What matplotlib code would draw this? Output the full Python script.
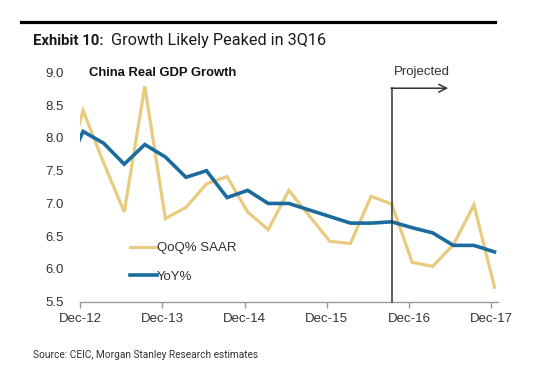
import matplotlib
matplotlib.use("Agg")
import matplotlib.pyplot as plt
import numpy as np

# Quarterly data, Sep-12 .. Dec-17
quarters = ["Sep-12", "Dec-12", "Mar-13", "Jun-13", "Sep-13", "Dec-13", "Mar-14", "Jun-14",
            "Sep-14", "Dec-14", "Mar-15", "Jun-15", "Sep-15", "Dec-15", "Mar-16", "Jun-16",
            "Sep-16", "Dec-16", "Mar-17", "Jun-17", "Sep-17", "Dec-17"]
qoq_saar = [7.3, 8.42, 7.62, 6.87, 8.79, 6.77, 6.94, 7.30, 7.41, 6.87, 6.60, 7.20,
            6.81, 6.42, 6.39, 7.11, 6.99, 6.10, 6.04, 6.37, 6.98, 5.72]
yoy = [7.4, 8.10, 7.92, 7.60, 7.90, 7.71, 7.40, 7.50, 7.09, 7.20, 7.00, 7.00,
       6.90, 6.80, 6.70, 6.70, 6.72, 6.63, 6.55, 6.36, 6.36, 6.26]
tick_labels = ["Dec-12", "Dec-13", "Dec-14", "Dec-15", "Dec-16", "Dec-17"]
y_ticks = [5.5, 6.0, 6.5, 7.0, 7.5, 8.0, 8.5, 9.0]
projection_start = "Sep-16"

TAN = "#E8CB7E"
BLUE = "#1B6C9C"
TXT = "#333333"

W, H = 551, 374
fig = plt.figure(figsize=(W / 100, H / 100), dpi=100)
fig.patch.set_facecolor("white")

ax = fig.add_axes([80 / W, 1 - 301.7 / H, (498 - 80) / W, (301.7 - 72.5) / H])

x = np.arange(len(quarters)) - 1  # Dec-12 at 0
ax.plot(x, qoq_saar, color=TAN, lw=2.3, label="QoQ% SAAR", solid_joinstyle="miter", zorder=3)
ax.plot(x, yoy, color=BLUE, lw=2.6, label="YoY%", solid_joinstyle="miter", zorder=4)

off = 0.15
xt = [4 * i - off for i in range(len(tick_labels))]
ax.set_xticks(xt)
ax.set_xticklabels(tick_labels, fontfamily="Liberation Sans", fontsize=9.5, color=TXT)
ax.set_xlim(-off, 20.17)
ax.set_ylim(5.5, 9.0)
ax.set_yticks(y_ticks)
ax.set_yticklabels([f"{v:.1f}" for v in y_ticks], fontfamily="Liberation Sans", fontsize=9.5, color=TXT)

for s in ["top", "right", "left"]:
    ax.spines[s].set_visible(False)
ax.spines["bottom"].set_color("#999999")
ax.spines["bottom"].set_linewidth(1.0)
ax.tick_params(axis="x", length=4, color="#999999", width=1.0, pad=4)
ax.tick_params(axis="y", length=0, pad=12)

# Projected marker
px = quarters.index(projection_start) - 1
ax.plot([px, px], [5.5, 8.76], color=TXT, lw=1.1, zorder=5, clip_on=False)
ax.annotate("", xy=(17.75, 8.76), xytext=(px - 0.03, 8.76),
            arrowprops=dict(arrowstyle="->", color=TXT, lw=1.1, mutation_scale=14,
                            shrinkA=0, shrinkB=0))
ax.text((px + 17.75) / 2 + 0.1, 9.0, "Projected", ha="center", va="center",
        fontfamily="Liberation Sans", fontsize=9.5, color=TXT)

ax.text(0.3, 9.0, "China Real GDP Growth", ha="left", va="center",
        fontfamily="Liberation Sans", fontweight="bold", fontsize=9.4, color="#111111")

leg = ax.legend(loc="upper left", bbox_to_anchor=(130 / W, 1 - 242 / H),
                bbox_transform=fig.transFigure, frameon=False, borderpad=0,
                borderaxespad=0, handlelength=2.05, handletextpad=0.0,
                labelspacing=1.25, prop={"family": "Liberation Sans", "size": 9.5})
for t in leg.get_texts():
    t.set_color(TXT)

# Header
fig.add_artist(plt.Line2D([21 / W, 495 / W], [1 - 21.5 / H, 1 - 21.5 / H],
                          color="black", lw=2.3, transform=fig.transFigure))
fig.text(33 / W, 1 - 45 / H, "Exhibit 10:", fontfamily="Roboto", fontweight="bold",
         fontsize=10.7, color="#1a1a1a", va="baseline")
fig.text(111 / W, 1 - 45 / H, "Growth Likely Peaked in 3Q16", fontfamily="Roboto",
         fontsize=11.7, color="#1a1a1a", va="baseline")

fig.text(33 / W, 1 - 355 / H, "Source: CEIC, Morgan Stanley Research estimates",
         fontfamily="Roboto", fontsize=7.3, color="#333333", va="center")

fig.savefig("out.png", dpi=100, facecolor="white")
